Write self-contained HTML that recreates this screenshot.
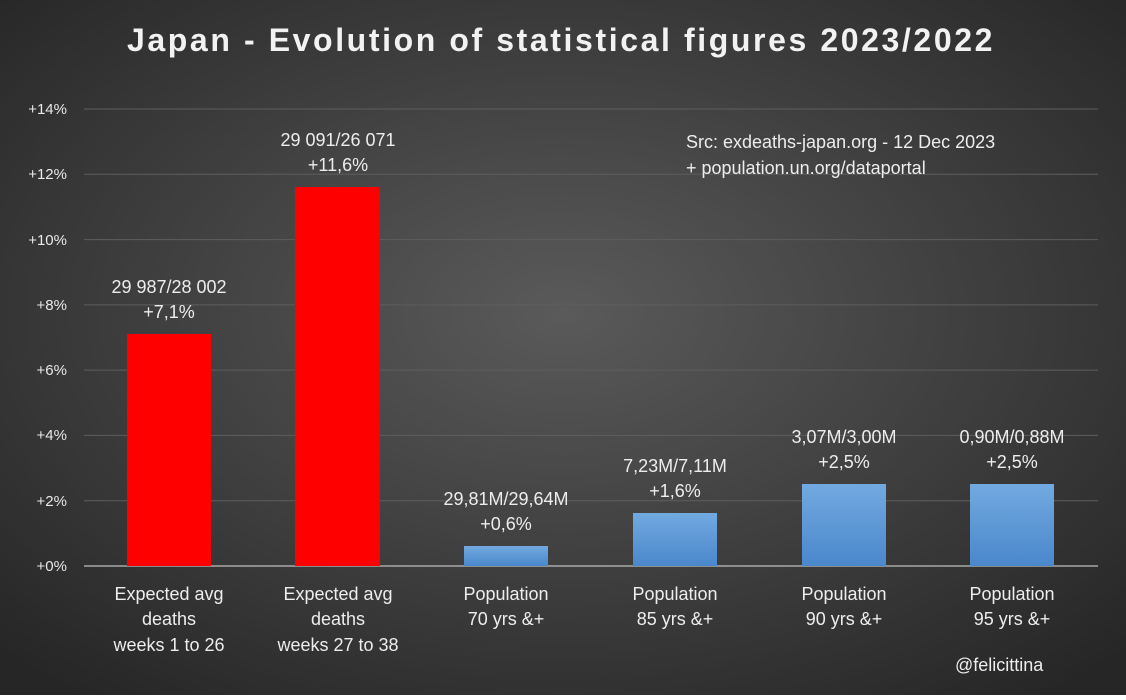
<!DOCTYPE html><html><head><style>
body{margin:0;width:1126px;height:695px;overflow:hidden;font-family:"Liberation Sans",sans-serif}
</style></head><body>
<svg width="1126" height="695" xmlns="http://www.w3.org/2000/svg" font-family="Liberation Sans, sans-serif">
<defs>
<radialGradient id="bg" cx="0.5" cy="0.45" r="0.7">
<stop offset="0" stop-color="#5a5a5a"/><stop offset="1" stop-color="#262626"/></radialGradient>
<linearGradient id="bl" x1="0" y1="0" x2="0" y2="1"><stop offset="0" stop-color="#72a9e0"/><stop offset="1" stop-color="#4a88cc"/></linearGradient>
</defs>
<rect width="1126" height="695" fill="url(#bg)"/>
<text x="561" y="51" text-anchor="middle" font-size="32" font-weight="bold" fill="#f2f2f2" letter-spacing="2.6">Japan - Evolution of statistical figures 2023/2022</text>
<g stroke="#5e5e5e" stroke-width="1">
<line x1="84" x2="1098" y1="109" y2="109"/><line x1="84" x2="1098" y1="174.3" y2="174.3"/>
<line x1="84" x2="1098" y1="239.6" y2="239.6"/><line x1="84" x2="1098" y1="304.9" y2="304.9"/>
<line x1="84" x2="1098" y1="370.1" y2="370.1"/><line x1="84" x2="1098" y1="435.4" y2="435.4"/>
<line x1="84" x2="1098" y1="500.7" y2="500.7"/></g>
<line x1="84" x2="1098" y1="566" y2="566" stroke="#bfbfbf" stroke-width="1.3"/>
<g font-size="15" fill="#e8e8e8" text-anchor="end">
<text x="67" y="114">+14%</text><text x="67" y="179">+12%</text><text x="67" y="245">+10%</text>
<text x="67" y="310">+8%</text><text x="67" y="375">+6%</text><text x="67" y="440">+4%</text>
<text x="67" y="506">+2%</text><text x="67" y="571">+0%</text></g>
<rect x="127" y="334" width="84" height="232" fill="#ff0000"/>
<rect x="295" y="187" width="85" height="379" fill="#ff0000"/>
<rect x="464" y="546" width="84" height="20" fill="url(#bl)"/>
<rect x="633" y="513" width="84" height="53" fill="url(#bl)"/>
<rect x="802" y="484" width="84" height="82" fill="url(#bl)"/>
<rect x="970" y="484" width="84" height="82" fill="url(#bl)"/>
<g font-size="18" fill="#ededed" text-anchor="middle" xml:space="preserve">
<text x="169" y="293">29 987/28 002</text><text x="169" y="318">+7,1%</text>
<text x="338" y="146">29 091/26 071</text><text x="338" y="171">+11,6%</text>
<text x="506" y="505">29,81M/29,64M</text><text x="506" y="530">+0,6%</text>
<text x="675" y="472">7,23M/7,11M</text><text x="675" y="497">+1,6%</text>
<text x="844" y="443">3,07M/3,00M</text><text x="844" y="468">+2,5%</text>
<text x="1012" y="443">0,90M/0,88M</text><text x="1012" y="468">+2,5%</text>
<text x="169" y="600">Expected avg</text><text x="169" y="625">deaths</text><text x="169" y="651">weeks 1 to 26</text>
<text x="338" y="600">Expected avg</text><text x="338" y="625">deaths</text><text x="338" y="651">weeks 27 to 38</text>
<text x="506" y="600">Population</text><text x="506" y="625">70 yrs  &amp;+</text>
<text x="675" y="600">Population</text><text x="675" y="625">85 yrs  &amp;+</text>
<text x="844" y="600">Population</text><text x="844" y="625">90 yrs  &amp;+</text>
<text x="1012" y="600">Population</text><text x="1012" y="625">95 yrs  &amp;+</text>
</g>
<g font-size="18" fill="#ededed">
<text x="686" y="148">Src: exdeaths-japan.org - 12 Dec 2023</text>
<text x="686" y="174">+ population.un.org/dataportal</text>
<text x="955" y="671">@felicittina</text></g>
</svg></body></html>
